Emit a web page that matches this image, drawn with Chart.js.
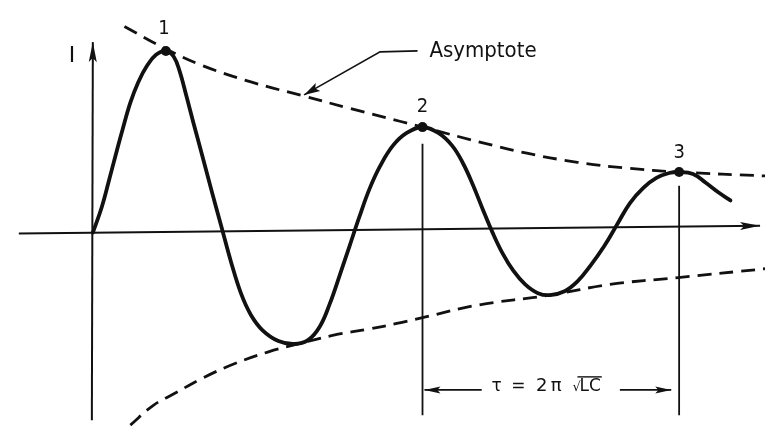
<!DOCTYPE html>
<html><head><meta charset="utf-8">
<style>html,body{margin:0;padding:0;background:#fff}#wrap{width:770px;height:433px;position:relative}</style>
<script src="https://cdn.jsdelivr.net/npm/chart.js@4/dist/chart.umd.min.js"></script>
</head><body><div id="wrap"><canvas id="c" width="770" height="433"></canvas></div>
<script>
// Damped oscillation of current I versus time (arbitrary units, origin at 0,0)
const currentCurve = [
  [0,0],[9,26],[16,52],[23,79],[30,105],[38,133],[46,154],[55,171],[64,182],[74,186],
  [82,180],[88,165],[95,139],[102,112],[110,82],[120,44],[130,7],[140,-30],[150,-62],
  [160,-84],[172,-100],[188,-111],[204,-114],[218,-110],[230,-96],[240,-73],[250,-44],
  [260,-14],[270,16],[280,44],[291,68],[304,89],[318,102],[334,108],[350,102],[364,89],
  [375,71],[385,49],[395,24],[405,0],[415,-21],[426,-39],[438,-53],[451,-62],[463,-64],
  [478,-60],[491,-50],[504,-34],[518,-14],[531,8],[544,30],[558,46],[571,56],[584,61],
  [594,62],[608,60],[621,51],[634,41],[646,33]
];
const upperAsymptote = [
  [32,211],[74,188],[111,171],[161,154],[213,140],[261,127],[311,114],[334,108],
  [391,93],[441,81],[491,72],[541,66],[594,62],[681,58]
];
const lowerAsymptote = [
  [38,-197],[61,-177],[84,-164],[111,-149],[144,-134],[178,-122],[204,-115],
  [244,-105],[278,-99],[308,-93],[334,-87],[391,-74],[463,-64],[524,-53],[593,-46],[681,-37]
];
const peaks = [[74,186],[334,108],[594,62]];
const peakLabels = ['1','2','3'];
const timeAxis = [[-75,-1],[676,7]];
const currentAxis = [[-1,-192],[0,195]];
const periodMarkers = [[[334,91],[334,-187]],[[594,48],[594,-187]]];
const leader = [[329,186],[291,185],[214,141]];
const periodArrowLeft = [[394,-161],[336,-161]];
const periodArrowRight = [[534,-161],[586,-161]];
const axisLabel = 'I';
const asymptoteLabel = 'Asymptote';
const formulaParts = [['τ',404,17],['=',424,17],['2',449,18],['π',464,18],['√',486,13]];
const formulaRadicand = ['LC',493];

const pts = a => a.map(p => ({x:p[0], y:p[1]}));
const INK = '#111';
const line = (data, w, extra) => Object.assign({data: pts(data), showLine: true, borderColor: INK,
  backgroundColor: INK, borderWidth: w, pointRadius: 0, fill: false, tension: 0}, extra || {});

const datasets = [
  line(timeAxis, 2, {arrow: {len: 20, hw: 4}}),
  line(currentAxis, 2, {arrow: {len: 20, hw: 4}}),
  line(periodMarkers[0], 1.8),
  line(periodMarkers[1], 1.8),
  line(upperAsymptote, 2.8, {borderDash: [14, 8], tension: 0.4}),
  line(lowerAsymptote, 2.8, {borderDash: [14, 8], tension: 0.4}),
  line(currentCurve, 3.8, {tension: 0.4, borderCapStyle: 'round', borderJoinStyle: 'round'}),
  line(leader, 1.6, {arrow: {len: 16, hw: 4.5}}),
  line(periodArrowLeft, 1.8, {arrow: {len: 16, hw: 3.5}}),
  line(periodArrowRight, 1.8, {arrow: {len: 16, hw: 3.5}}),
  {data: pts(peaks), showLine: false, pointRadius: 5, pointBackgroundColor: INK, pointBorderColor: INK, borderWidth: 0}
];

const decor = {
  id: 'decor',
  afterDatasetsDraw(chart) {
    const ctx = chart.ctx, xs = chart.scales.x, ys = chart.scales.y;
    const X = v => xs.getPixelForValue(v), Y = v => ys.getPixelForValue(v);
    ctx.save();
    ctx.fillStyle = INK;
    // arrowheads
    chart.data.datasets.forEach(ds => {
      if (!ds.arrow) return;
      const d = ds.data, a = d[d.length - 2], b = d[d.length - 1];
      const x1 = X(a.x), y1 = Y(a.y), x2 = X(b.x), y2 = Y(b.y);
      const ang = Math.atan2(y2 - y1, x2 - x1);
      const L = ds.arrow.len, H = ds.arrow.hw;
      ctx.beginPath();
      ctx.moveTo(x2, y2);
      ctx.lineTo(x2 - L*Math.cos(ang) + H*Math.sin(ang), y2 - L*Math.sin(ang) - H*Math.cos(ang));
      ctx.lineTo(x2 - L*0.8*Math.cos(ang), y2 - L*0.8*Math.sin(ang));
      ctx.lineTo(x2 - L*Math.cos(ang) - H*Math.sin(ang), y2 - L*Math.sin(ang) + H*Math.cos(ang));
      ctx.closePath();
      ctx.fill();
    });
    // peak numbers
    ctx.textAlign = 'center';
    ctx.textBaseline = 'alphabetic';
    ctx.font = '20px "DejaVu Sans Condensed", "DejaVu Sans", sans-serif';
    const lift = [17, 15, 14];
    peaks.forEach((p, i) => ctx.fillText(peakLabels[i], X(p[0]) - (i === 0 ? 2 : 0), Y(p[1]) - lift[i]));
    // axis label
    ctx.font = '22px "DejaVu Sans", sans-serif';
    ctx.fillText(axisLabel, X(-21), Y(175));
    // asymptote label
    ctx.textAlign = 'left';
    ctx.font = '22px "DejaVu Sans Condensed", "DejaVu Sans", sans-serif';
    ctx.fillText(asymptoteLabel, X(341), Y(180));
    // period formula
    const by = Y(-162);
    formulaParts.forEach(([s, x, fs]) => {
      ctx.font = fs + 'px "DejaVu Sans", sans-serif';
      ctx.fillText(s, X(x), by);
    });
    ctx.font = '17px "DejaVu Sans", sans-serif';
    const rx = X(formulaRadicand[1]);
    ctx.fillText(formulaRadicand[0], rx, by);
    const w2 = ctx.measureText(formulaRadicand[0]).width;
    ctx.strokeStyle = INK; ctx.lineWidth = 1.4;
    ctx.beginPath();
    ctx.moveTo(rx - 2, by - 14); ctx.lineTo(rx + w2 + 1, by - 14);
    ctx.stroke();
    ctx.restore();
  }
};

new Chart(document.getElementById('c'), {
  type: 'scatter',
  data: {datasets},
  options: {
    responsive: false, animation: false, devicePixelRatio: 1,
    layout: {padding: 0},
    scales: {
      x: {type: 'linear', min: -89, max: 681, display: false},
      y: {type: 'linear', min: -200, max: 233, display: false}
    },
    plugins: {legend: {display: false}, tooltip: {enabled: false}},
    elements: {point: {radius: 0, hoverRadius: 0}}
  },
  plugins: [decor]
});
</script>
</body></html>
